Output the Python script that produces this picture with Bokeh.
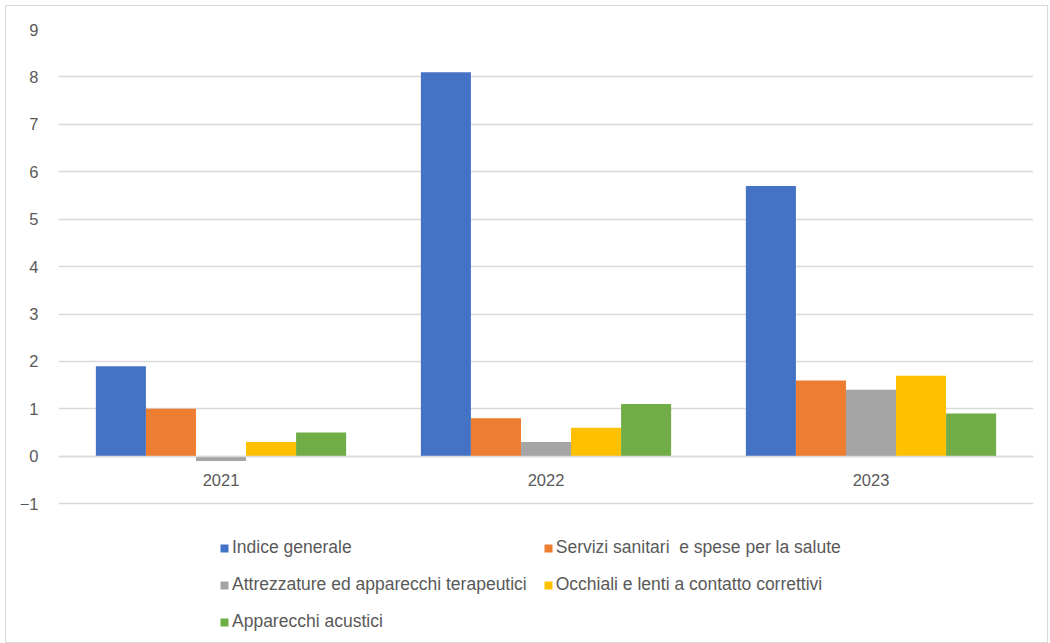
from bokeh.plotting import figure
from bokeh.models import ColumnDataSource, Range1d, FactorRange, Legend, LegendItem, FixedTicker
from bokeh.transform import dodge
from bokeh.embed import file_html
from bokeh.resources import INLINE

years = ["2021", "2022", "2023"]
series = ["Indice generale", "Servizi sanitari  e spese per la salute",
          "Attrezzature ed apparecchi terapeutici", "Occhiali e lenti a contatto correttivi",
          "Apparecchi acustici"]
indice = [1.9, 8.1, 5.7]
servizi = [1.0, 0.8, 1.6]
attrezzature = [-0.1, 0.3, 1.4]
occhiali = [0.3, 0.6, 1.7]
acustici = [0.5, 1.1, 0.9]
colors = ["#4472C4", "#ED7D31", "#A5A5A5", "#FFC000", "#70AD47"]
y_ticks = list(range(-1, 10))

FONT = "Liberation Sans"
TXT = "#595959"
GRID = "#d9d9d9"

source = ColumnDataSource(dict(year=years, s0=indice, s1=servizi, s2=attrezzature, s3=occhiali, s4=acustici))

# frame extends below -1 to host the legend area (no ticks there)
p = figure(width=1043, height=638, x_range=FactorRange(*years), y_range=Range1d(-3.97, 9),
           output_backend="svg", toolbar_location=None,
           min_border_left=52, min_border_right=16, min_border_top=23, min_border_bottom=0)

bw = 0.154
offsets = [-2 * bw, -bw, 0, bw, 2 * bw]
renderers = []
for i in range(5):
    r = p.vbar(x=dodge("year", offsets[i], range=p.x_range), top="s%d" % i, bottom=0, width=bw,
               source=source, fill_color=colors[i], line_color=None)
    renderers.append(r)

p.outline_line_color = None
p.ygrid.grid_line_color = GRID
p.ygrid.grid_line_width = 1.3
p.xgrid.grid_line_color = None
p.yaxis.ticker = FixedTicker(ticks=y_ticks)
p.yaxis.axis_line_color = None
p.yaxis.major_tick_line_color = None
p.yaxis.minor_tick_line_color = None
p.yaxis.major_label_text_font = FONT
p.yaxis.major_label_text_font_size = "16.5px"
p.yaxis.major_label_text_color = TXT
p.yaxis.major_label_standoff = 14

p.xaxis.fixed_location = 0
p.xaxis.axis_line_color = GRID
p.xaxis.axis_line_width = 1.3
p.xaxis.major_tick_line_color = None
p.xaxis.minor_tick_line_color = None
p.xaxis.major_label_text_font = FONT
p.xaxis.major_label_text_font_size = "16.5px"
p.xaxis.major_label_text_color = TXT
p.xaxis.major_label_standoff = 12

# legend fills column by column: order items so rows read as in the reference
order = [0, 2, 4, 1, 3]
legend = Legend(items=[LegendItem(label=series[i], renderers=[renderers[i]]) for i in order],
                location=(161, 12), ncols=2, padding=0, margin=0, spacing=16,
                glyph_width=10, glyph_height=10, label_height=20, label_standoff=3,
                label_text_font=FONT, label_text_font_size="17.5px", label_text_color=TXT,
                border_line_color=None, background_fill_alpha=0)
p.add_layout(legend, "center")
p.styles = {"border": "1px solid #d9d9d9", "margin-left": "5px", "margin-top": "5px"}

open("out.html", "w").write(file_html(p, INLINE))
